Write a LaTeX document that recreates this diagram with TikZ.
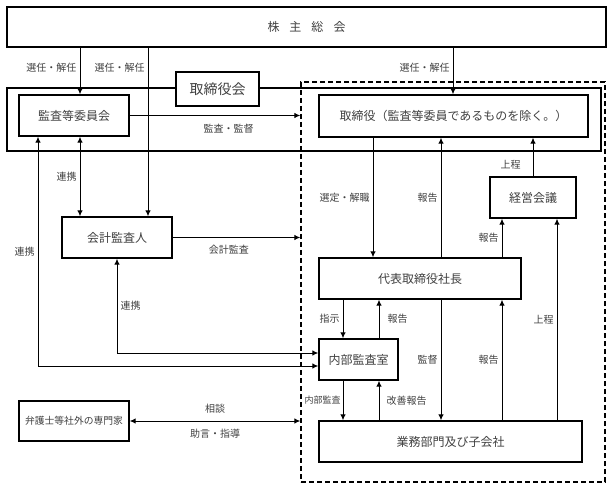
\documentclass[tikz,border=0pt]{standalone}
\usepackage{fontspec}
\setmainfont{Noto Sans CJK JP}
\usetikzlibrary{arrows.meta}

\begin{document}
\begin{tikzpicture}[>={Latex[length=6pt,width=5.5pt]}, x=1pt, y=-1pt,
    box/.style={draw, line width=1.3pt, inner sep=0pt, minimum height=41, text=black!75, font=\fontsize{12}{14}\selectfont},
    lbl/.style={inner sep=3pt, text=black!75, font=\fontsize{10}{12}\selectfont},
    conn/.style={line width=1pt}]

    \useasboundingbox (0,0) rectangle (613,489);

    % columns of the connectors
    \coordinate (s1) at (80,0);
    \coordinate (s2) at (148,0);
    \coordinate (s3) at (453,0);
    \coordinate (v1) at (373,0);
    \coordinate (v2) at (441,0);
    \coordinate (v4) at (502,0);
    \coordinate (v5) at (343,0);
    \coordinate (v6) at (379,0);
    \coordinate (v7) at (557,0);
    \coordinate (k1) at (38,366);
    \coordinate (k2) at (117,353);

    \node[box, minimum width=599, minimum height=40] (soukai) at (306.5,27) {株\hspace{10pt}主\hspace{10pt}総\hspace{10pt}会};
    \node[draw, line width=1.3pt, minimum width=594, minimum height=63] (torikai) at (304,119.5) {};
    \node[draw, line width=1.3pt, dash pattern=on 5pt off 3pt, minimum width=304, minimum height=400] (shikkou) at (453,282) {};
    \node[box, fill=white, minimum width=83, minimum height=34, font=\fontsize{14}{16}\selectfont] (torikaimei) at (217.5,89) {取締役会};

    \node[box, minimum width=110] (kansa) at (74,115.5) {監査等委員会};
    \node[box, minimum width=269, minimum height=42] (torishimari) at (453.5,116) {取締役（監査等委員であるものを除く。）};
    \node[box, minimum width=110] (kaikei) at (117,237.5) {会計監査人};
    \node[box, minimum width=86] (keiei) at (533,197.5) {経営会議};
    \node[box, minimum width=202] (shacho) at (420,278.5) {代表取締役社長};
    \node[box, minimum width=79] (naibu) at (358.5,359.5) {内部監査室};
    \node[box, minimum width=263] (gyomu) at (450.5,441.5) {業務部門及び子会社};
    \node[box, minimum width=110, minimum height=40, font=\fontsize{9.8}{12}\selectfont] (bengoshi) at (74,421) {弁護士等社外の専門家};

    % left side
    \draw[conn,->] (soukai.south -| s1) -- node[lbl,left,pos=.42]{選任・解任} (kansa.north -| s1);
    \draw[conn,->] (soukai.south -| s2) -- node[lbl,left,pos=.12]{選任・解任} (kaikei.north -| s2);
    \draw[conn,->] (soukai.south -| s3) -- node[lbl,left,pos=.42]{選任・解任} (torishimari.north -| s3);
    \draw[conn,<->] (kansa.south -| s1) -- node[lbl,left]{連携} (kaikei.north -| s1);
    \draw[conn,->] (kansa.east) -- node[lbl,below=5pt,pos=.58]{監査・監督} (kansa.east -| shikkou.west);
    \draw[conn,->] (kaikei.east) -- node[lbl,below=4pt,pos=.44]{会計監査} (kaikei.east -| shikkou.west);
    \draw[conn,<->] (kansa.south -| k1) |- node[lbl,left,pos=.25]{連携} (naibu.west |- k1);
    \draw[conn,<->] (kaikei.south -| k2) |- node[lbl,right,pos=.25]{連携} (naibu.west |- k2);
    \draw[conn,<->] (bengoshi.east) -- node[lbl,above=4pt]{相談} node[lbl,below=5pt]{助言・指導} (bengoshi.east -| shikkou.west);

    % right side
    \draw[conn,->] (torishimari.south -| v1) -- node[lbl,left]{選定・解職} (shacho.north -| v1);
    \draw[conn,->] (shacho.north -| v2) -- node[lbl,left]{報告} (torishimari.south -| v2);
    \draw[conn,->] (keiei.north) -- node[lbl,left=9pt,pos=.3]{上程} (torishimari.south -| keiei.north);
    \draw[conn,->] (shacho.north -| v4) -- node[lbl,left]{報告} (keiei.south -| v4);
    \draw[conn,->] (shacho.south -| v5) -- node[lbl,left]{指示} (naibu.north -| v5);
    \draw[conn,->] (naibu.north -| v6) -- node[lbl,right=5pt]{報告} (shacho.south -| v6);
    \draw[conn,->] (shacho.south -| v2) -- node[lbl,left]{監督} (gyomu.north -| v2);
    \draw[conn,->] (gyomu.north -| v4) -- node[lbl,left]{報告} (shacho.south -| v4);
    \draw[conn,->] (gyomu.north -| v7) -- node[lbl,left]{上程} (keiei.south -| v7);
    \draw[conn,->] (naibu.south -| v5) -- node[lbl,left,inner sep=2pt,font=\fontsize{9}{11}\selectfont]{内部監査} (gyomu.north -| v5);
    \draw[conn,->] (gyomu.north -| v6) -- node[lbl,right=4pt]{改善報告} (naibu.south -| v6);
\end{tikzpicture}
\end{document}
